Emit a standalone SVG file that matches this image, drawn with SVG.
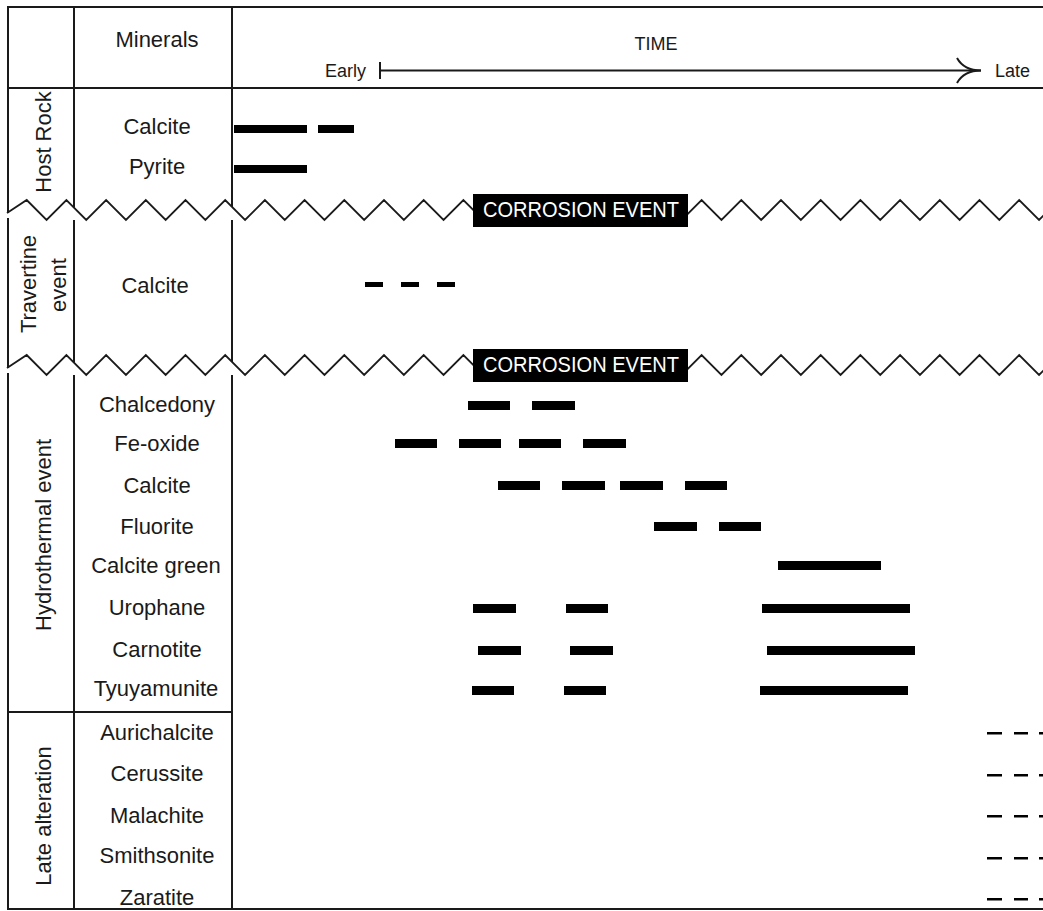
<svg xmlns="http://www.w3.org/2000/svg" xmlns:xlink="http://www.w3.org/1999/xlink" width="1043" height="911" viewBox="0 0 1043 911">
<style>
text{font-family:"Liberation Sans",Arial,sans-serif;fill:#1a1a1a}
.lbl{font-size:22px;text-anchor:middle}
.hdr{font-size:18px}
.grid{stroke:#1a1a1a;stroke-width:2;fill:none}
.zz{stroke:#1a1a1a;stroke-width:1.8;fill:none;stroke-linejoin:miter}
.bar{fill:#000}
.ce{fill:#000}
.cet{fill:#fff;font-size:22px;text-anchor:middle}
</style>
<defs>
<path id="zig" class="zz" d="M7,213 L26.7,200 L46.55,220 L66.4,200 L86.25,220 L106.1,200 L125.95,220 L145.8,200 L165.65,220 L185.5,200 L205.35,220 L225.2,200 L245.05,220 L264.9,200 L284.75,220 L304.6,200 L324.45,220 L344.3,200 L364.15,220 L384,200 L403.85,220 L423.7,200 L443.55,220 L463.4,200 L483.25,220 L503.1,200 L522.95,220 L542.8,200 L562.65,220 L582.5,200 L602.35,220 L622.2,200 L642.05,220 L661.9,200 L681.75,220 L701.6,200 L721.45,220 L741.3,200 L761.15,220 L781,200 L800.85,220 L820.7,200 L840.55,220 L860.4,200 L880.25,220 L900.1,200 L919.95,220 L939.8,200 L959.65,220 L979.5,200 L999.35,220 L1019.2,200 L1039.05,220 L1045,214"/>
</defs>

<g id="grid">
<line class="grid" x1="8" y1="7" x2="1043" y2="7"/>
<line class="grid" x1="8" y1="88" x2="1043" y2="88"/>
<line class="grid" x1="8" y1="712" x2="232" y2="712"/>
<line class="grid" x1="8" y1="909" x2="1043" y2="909"/>
<line class="grid" x1="8" y1="6" x2="8" y2="213"/>
<line class="grid" x1="8" y1="218" x2="8" y2="368"/>
<line class="grid" x1="8" y1="373" x2="8" y2="910"/>
<line class="grid" x1="74" y1="6" x2="74" y2="207.7"/>
<line class="grid" x1="74" y1="220" x2="74" y2="362.7"/>
<line class="grid" x1="74" y1="375" x2="74" y2="910"/>
<line class="grid" x1="232" y1="6" x2="232" y2="207"/>
<line class="grid" x1="232" y1="220" x2="232" y2="362"/>
<line class="grid" x1="232" y1="375" x2="232" y2="910"/>
</g>

<g id="header">
<text class="lbl" x="157" y="47">Minerals</text>
<text class="hdr" x="656" y="50" text-anchor="middle">TIME</text>
<text class="hdr" x="325" y="77">Early</text>
<text class="hdr" x="995" y="77">Late</text>
</g>

<g id="time-arrow">
<line class="grid" x1="380" y1="62" x2="380" y2="79"/>
<line class="grid" x1="380" y1="70.5" x2="981" y2="70.5"/>
<path class="grid" d="M957,58 Q964,70.5 981,70.5 M957,83 Q964,70.5 981,70.5"/>
</g>

<g id="corrosion-1">
<use xlink:href="#zig"/>
<rect class="ce" x="473" y="194" width="215" height="33"/>
<text class="cet" x="581" y="217" textLength="196" lengthAdjust="spacingAndGlyphs">CORROSION EVENT</text>
</g>
<g id="corrosion-2">
<use xlink:href="#zig" transform="translate(0,155)"/>
<rect class="ce" x="473" y="349" width="215" height="33"/>
<text class="cet" x="581" y="372" textLength="196" lengthAdjust="spacingAndGlyphs">CORROSION EVENT</text>
</g>

<g id="host-rock">
<text class="lbl" transform="translate(51,142) rotate(-90)">Host Rock</text>
<text class="lbl" x="157" y="134">Calcite</text>
<text class="lbl" x="157" y="174">Pyrite</text>
<rect class="bar" x="234" y="125" width="73" height="8"/>
<rect class="bar" x="318" y="125" width="36" height="8"/>
<rect class="bar" x="234" y="165" width="73" height="8"/>
</g>

<g id="travertine-event">
<text class="lbl" transform="translate(36,284) rotate(-90)">Travertine</text>
<text class="lbl" transform="translate(66,285) rotate(-90)">event</text>
<text class="lbl" x="155" y="293">Calcite</text>
<rect class="bar" x="365" y="282" width="18" height="5"/>
<rect class="bar" x="401" y="282" width="18" height="5"/>
<rect class="bar" x="437" y="282" width="18" height="5"/>
</g>

<g id="hydrothermal-event">
<text class="lbl" transform="translate(51,535) rotate(-90)">Hydrothermal event</text>
<text class="lbl" x="157" y="412">Chalcedony</text>
<text class="lbl" x="157" y="451">Fe-oxide</text>
<text class="lbl" x="157" y="493">Calcite</text>
<text class="lbl" x="157" y="534">Fluorite</text>
<text class="lbl" x="156" y="573">Calcite green</text>
<text class="lbl" x="157" y="615">Urophane</text>
<text class="lbl" x="157" y="657">Carnotite</text>
<text class="lbl" x="156" y="696">Tyuyamunite</text>
<rect class="bar" x="468" y="401" width="42" height="9"/>
<rect class="bar" x="532" y="401" width="43" height="9"/>
<rect class="bar" x="395" y="439" width="42" height="9"/>
<rect class="bar" x="459" y="439" width="42" height="9"/>
<rect class="bar" x="519" y="439" width="42" height="9"/>
<rect class="bar" x="583" y="439" width="43" height="9"/>
<rect class="bar" x="498" y="481" width="42" height="9"/>
<rect class="bar" x="562" y="481" width="43" height="9"/>
<rect class="bar" x="620" y="481" width="43" height="9"/>
<rect class="bar" x="685" y="481" width="42" height="9"/>
<rect class="bar" x="654" y="522" width="43" height="9"/>
<rect class="bar" x="719" y="522" width="42" height="9"/>
<rect class="bar" x="778" y="561" width="103" height="9"/>
<rect class="bar" x="473" y="604" width="43" height="9"/>
<rect class="bar" x="566" y="604" width="42" height="9"/>
<rect class="bar" x="762" y="604" width="148" height="9"/>
<rect class="bar" x="478" y="646" width="43" height="9"/>
<rect class="bar" x="570" y="646" width="43" height="9"/>
<rect class="bar" x="767" y="646" width="148" height="9"/>
<rect class="bar" x="472" y="686" width="42" height="9"/>
<rect class="bar" x="564" y="686" width="42" height="9"/>
<rect class="bar" x="760" y="686" width="148" height="9"/>
</g>

<g id="late-alteration">
<text class="lbl" transform="translate(51,816) rotate(-90)">Late alteration</text>
<text class="lbl" x="157" y="740">Aurichalcite</text>
<text class="lbl" x="157" y="781">Cerussite</text>
<text class="lbl" x="157" y="823">Malachite</text>
<text class="lbl" x="157" y="863">Smithsonite</text>
<text class="lbl" x="157" y="905">Zaratite</text>
<g class="bar">
<rect x="987" y="732" width="15" height="2.5"/><rect x="1014" y="732" width="14" height="2.5"/><rect x="1039" y="732" width="6" height="2.5"/>
<rect x="987" y="774" width="15" height="2.5"/><rect x="1014" y="774" width="14" height="2.5"/><rect x="1039" y="774" width="6" height="2.5"/>
<rect x="987" y="815" width="15" height="2.5"/><rect x="1014" y="815" width="14" height="2.5"/><rect x="1039" y="815" width="6" height="2.5"/>
<rect x="987" y="857" width="15" height="2.5"/><rect x="1014" y="857" width="14" height="2.5"/><rect x="1039" y="857" width="6" height="2.5"/>
<rect x="987" y="898" width="15" height="2.5"/><rect x="1014" y="898" width="14" height="2.5"/><rect x="1039" y="898" width="6" height="2.5"/>
</g>
</g>
</svg>
